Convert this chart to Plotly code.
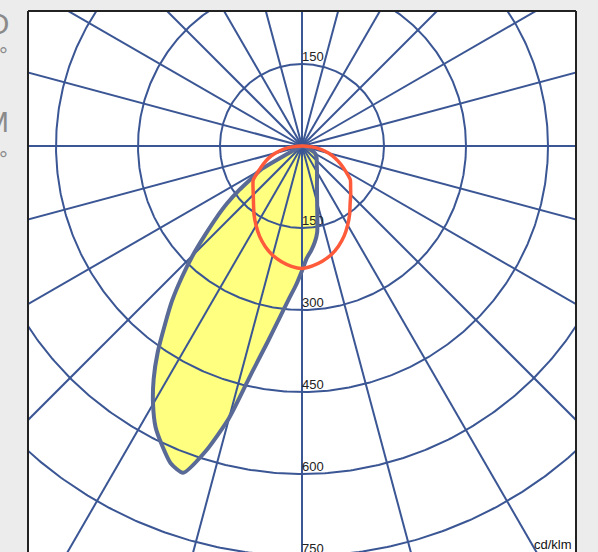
import numpy as np
import plotly.graph_objects as go

# Luminous intensity distribution (cd/klm); angles measured from nadir,
# positive = left half of the diagram, negative = right half.
angles_c0_c180 = [-90, -80, -70, -60, -50, -40, -30, -20, -15, -10, -7.5, -5, -2.5,
                  0, 2.5, 5, 7.5, 10, 12.5, 15, 17.5, 20, 22.5, 25, 27.5, 30, 32.5,
                  35, 37.5, 40, 42.5, 45, 47.5, 50, 52.5, 55, 57.5, 60, 62.5, 65,
                  70, 80, 90]
intensity_c0_c180 = [0, 4, 14, 28, 35, 42, 55, 80, 107, 160, 178, 192, 205,
                     228, 255, 282, 318, 365, 425, 515, 585, 636, 628, 605, 580, 545, 505,
                     460, 412, 370, 325, 282, 240, 205, 173, 140, 108, 88, 15, 5,
                     2, 0, 0]

angles_c90_c270 = [-90, -85, -80, -75, -70, -65, -60, -55, -50, -45, -40, -35, -30,
                   -25, -20, -15, -10, -5, 0, 5, 10, 15, 20, 25, 30, 35, 40, 45,
                   50, 55, 60, 65, 70, 75, 80, 85, 90]
intensity_c90_c270 = [0, 18, 35, 50, 64, 78, 92, 108, 116, 126, 137, 152, 167,
                      182, 195, 206, 214, 220, 224, 221, 215, 207, 196, 183, 168, 153, 138, 126,
                      117, 109, 92, 78, 65, 50, 35, 18, 0]

ring_values = [150, 300, 450, 600, 750]
ring_labels_upper = [150]
ring_labels_lower = [150, 300, 450, 600, 750]
spoke_step_deg = 15
unit_label = "cd/klm"

GRID = "#3b5694"
OUTLINE = "#5a6a96"
FILL = "#ffff80"
RED = "#ff5a3a"

# Figure geometry (pixels)
W, H = 598, 552
ML, MR, MT, MB = 28, 22, 11, 0
PX_PER_UNIT = 82.0 / 150.0
CX_PX, CY_PX = 302, 146          # pole position on the page

plot_w = W - ML - MR
plot_h = H - MT - MB
x_range = [-(CX_PX - ML) / PX_PER_UNIT, (W - MR - CX_PX) / PX_PER_UNIT]
y_range = [-(H - MB - CY_PX) / PX_PER_UNIT, (CY_PX - MT) / PX_PER_UNIT]


def to_xy(angles, values):
    a = np.radians(np.asarray(angles, dtype=float))
    r = np.asarray(values, dtype=float)
    return -r * np.sin(a), -r * np.cos(a)


fig = go.Figure()

# filled C0-C180 curve (fill only, outline drawn later above the grid)
x0, y0 = to_xy(angles_c0_c180, intensity_c0_c180)
fig.add_trace(go.Scatter(x=x0, y=y0, mode="lines", fill="toself",
                         fillcolor=FILL,
                         line=dict(width=0, color=FILL, shape="spline", smoothing=0.6),
                         hoverinfo="skip", showlegend=False))

# polar grid: concentric rings
t = np.linspace(0, 2 * np.pi, 721)
gx, gy = [], []
for rv in ring_values:
    gx += list(rv * np.cos(t)) + [None]
    gy += list(rv * np.sin(t)) + [None]
# radial spokes
R_FAR = 3000
for deg in range(0, 360, spoke_step_deg):
    a = np.radians(deg)
    gx += [0, R_FAR * np.cos(a), None]
    gy += [0, R_FAR * np.sin(a), None]
fig.add_trace(go.Scatter(x=gx, y=gy, mode="lines",
                         line=dict(color=GRID, width=2),
                         hoverinfo="skip", showlegend=False))

# ring value labels
lx = [0] * (len(ring_labels_upper) + len(ring_labels_lower))
ly = list(ring_labels_upper) + [-v for v in ring_labels_lower]
lt = [str(v) for v in ring_labels_upper] + [str(v) for v in ring_labels_lower]
fig.add_trace(go.Scatter(x=lx, y=ly, mode="text", text=lt,
                         textposition="top right",
                         textfont=dict(family="Liberation Sans, Arial", size=13, color="#222"),
                         hoverinfo="skip", showlegend=False))

# outline of C0-C180 curve
fig.add_trace(go.Scatter(x=x0, y=y0, mode="lines",
                         line=dict(color=OUTLINE, width=4, shape="spline", smoothing=0.6),
                         hoverinfo="skip", showlegend=False))

# C90-C270 curve
x1, y1 = to_xy(angles_c90_c270, intensity_c90_c270)
fig.add_trace(go.Scatter(x=x1, y=y1, mode="lines",
                         line=dict(color=RED, width=3.5, shape="spline", smoothing=0.6),
                         hoverinfo="skip", showlegend=False))


def px_to_paper(px, py):
    return (px - ML) / plot_w, 1 - (py - MT) / plot_h


shapes = []
for (xa, ya, xb, yb) in [(0, 0, 0, 1), (0, 1, 1, 1), (1, 1, 1, 0)]:
    shapes.append(dict(type="line", xref="paper", yref="paper",
                       x0=xa, y0=ya, x1=xb, y1=yb,
                       line=dict(color="#222", width=2)))

annotations = [dict(xref="paper", yref="paper", x=1, y=0, xanchor="right",
                    yanchor="bottom", text=unit_label, showarrow=False,
                    font=dict(family="Liberation Sans, Arial", size=13, color="#111"),
                    xshift=-2, yshift=-2)]

side_font = dict(family="Liberation Sans, Arial", size=30, color="#8a8a8a")
small_font = dict(family="Liberation Sans, Arial", size=22, color="#8a8a8a")
for txt, px, py, f in [("O", 11, 24, side_font), ("°", 10, 56, small_font),
                       ("M", 11, 121, side_font), ("°", 10, 160, small_font)]:
    ax, ay = px_to_paper(px, py)
    annotations.append(dict(xref="paper", yref="paper", x=ax, y=ay,
                            xanchor="right", yanchor="middle", text=txt,
                            showarrow=False, font=f))

fig.update_layout(
    width=W, height=H,
    margin=dict(l=ML, r=MR, t=MT, b=MB, pad=0),
    paper_bgcolor="#ececec", plot_bgcolor="white",
    xaxis=dict(range=x_range, visible=False, fixedrange=True),
    yaxis=dict(range=y_range, visible=False, fixedrange=True),
    shapes=shapes, annotations=annotations,
    showlegend=False,
)

fig.write_html("out.html")
